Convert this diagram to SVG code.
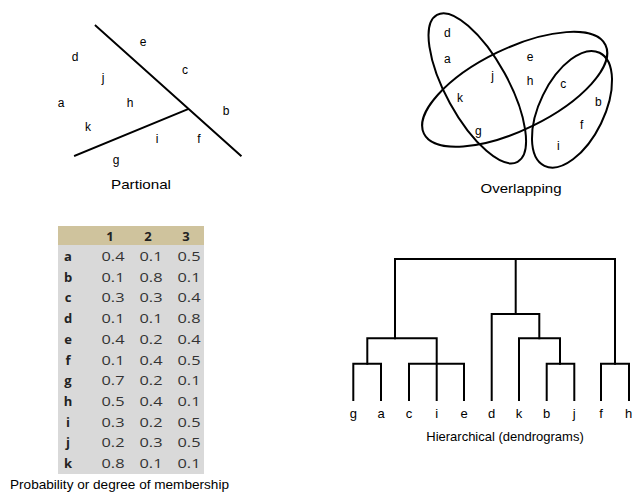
<svg xmlns="http://www.w3.org/2000/svg" width="632" height="493" viewBox="0 0 632 493">
  <style>
    .ln { fill: none; stroke: #000; stroke-width: 2; stroke-linecap: square; }
    .lb { font-family: "Liberation Sans", Arial, sans-serif; font-size: 12px; fill: #000; text-anchor: middle; }
    .cap { font-family: "Liberation Sans", Arial, sans-serif; font-size: 13px; fill: #000; text-anchor: middle; }
    .tb { font-family: "Open Sans", "Noto Sans", sans-serif; font-size: 13.5px; fill: #333; text-anchor: middle; }
    .tbh { font-family: "Open Sans", "Noto Sans", sans-serif; font-size: 13px; font-weight: bold; fill: #222; text-anchor: middle; }
  </style>
  <rect width="632" height="493" fill="#fff"/>

  <!-- Partitional clustering -->
  <g id="partional">
    <line class="ln" x1="95.7" y1="25.7" x2="240.7" y2="155.7"/>
    <line class="ln" x1="75" y1="155.7" x2="187.7" y2="109.3"/>
    <text class="lb" x="143" y="46">e</text>
    <text class="lb" x="75" y="61">d</text>
    <text class="lb" x="185" y="74">c</text>
    <text class="lb" x="103" y="82">j</text>
    <text class="lb" x="61" y="107">a</text>
    <text class="lb" x="130" y="107">h</text>
    <text class="lb" x="226" y="115">b</text>
    <text class="lb" x="88" y="131">k</text>
    <text class="lb" x="157" y="143">i</text>
    <text class="lb" x="199" y="143">f</text>
    <text class="lb" x="116" y="164">g</text>
    <text class="cap" x="141" y="189" textLength="60" lengthAdjust="spacingAndGlyphs">Partional</text>
  </g>

  <!-- Overlapping clustering -->
  <g id="overlapping">
    <ellipse class="ln" cx="0" cy="0" rx="83.8" ry="31.2" transform="translate(477.3 88.3) rotate(61.25)"/>
    <ellipse class="ln" cx="0" cy="0" rx="101" ry="40.7" transform="translate(514.7 89.3) rotate(-26)"/>
    <ellipse class="ln" cx="0" cy="0" rx="62.9" ry="32.3" transform="translate(572 109.3) rotate(-64)"/>
    <text class="lb" x="447.3" y="36.5">d</text>
    <text class="lb" x="447.3" y="63">a</text>
    <text class="lb" x="530" y="60.5">e</text>
    <text class="lb" x="492.7" y="80">j</text>
    <text class="lb" x="530" y="85">h</text>
    <text class="lb" x="563.3" y="88">c</text>
    <text class="lb" x="460" y="101.5">k</text>
    <text class="lb" x="598.3" y="106">b</text>
    <text class="lb" x="581.7" y="128.5">f</text>
    <text class="lb" x="478.3" y="135">g</text>
    <text class="lb" x="558.3" y="150">i</text>
    <text class="cap" x="521" y="193" textLength="81" lengthAdjust="spacingAndGlyphs">Overlapping</text>
  </g>

  <!-- Membership table -->
  <g id="membership">
    <rect x="58" y="226" width="146" height="19" fill="#cfc39d"/>
    <rect x="58" y="245" width="146" height="229" fill="#d9d9d9"/>
    <text class="tbh" x="110" y="240.5">1</text>
    <text class="tbh" x="148" y="240.5">2</text>
    <text class="tbh" x="186" y="240.5">3</text>
    <g id="row-a"><text class="tbh" x="68" y="261">a</text><text class="tb" x="113" y="261" textLength="23" lengthAdjust="spacingAndGlyphs">0.4</text><text class="tb" x="151" y="261" textLength="23" lengthAdjust="spacingAndGlyphs">0.1</text><text class="tb" x="189" y="261" textLength="23" lengthAdjust="spacingAndGlyphs">0.5</text></g>
    <g id="row-b"><text class="tbh" x="68" y="281.7">b</text><text class="tb" x="113" y="281.7" textLength="23" lengthAdjust="spacingAndGlyphs">0.1</text><text class="tb" x="151" y="281.7" textLength="23" lengthAdjust="spacingAndGlyphs">0.8</text><text class="tb" x="189" y="281.7" textLength="23" lengthAdjust="spacingAndGlyphs">0.1</text></g>
    <g id="row-c"><text class="tbh" x="68" y="302.4">c</text><text class="tb" x="113" y="302.4" textLength="23" lengthAdjust="spacingAndGlyphs">0.3</text><text class="tb" x="151" y="302.4" textLength="23" lengthAdjust="spacingAndGlyphs">0.3</text><text class="tb" x="189" y="302.4" textLength="23" lengthAdjust="spacingAndGlyphs">0.4</text></g>
    <g id="row-d"><text class="tbh" x="68" y="323.1">d</text><text class="tb" x="113" y="323.1" textLength="23" lengthAdjust="spacingAndGlyphs">0.1</text><text class="tb" x="151" y="323.1" textLength="23" lengthAdjust="spacingAndGlyphs">0.1</text><text class="tb" x="189" y="323.1" textLength="23" lengthAdjust="spacingAndGlyphs">0.8</text></g>
    <g id="row-e"><text class="tbh" x="68" y="343.8">e</text><text class="tb" x="113" y="343.8" textLength="23" lengthAdjust="spacingAndGlyphs">0.4</text><text class="tb" x="151" y="343.8" textLength="23" lengthAdjust="spacingAndGlyphs">0.2</text><text class="tb" x="189" y="343.8" textLength="23" lengthAdjust="spacingAndGlyphs">0.4</text></g>
    <g id="row-f"><text class="tbh" x="68" y="364.5">f</text><text class="tb" x="113" y="364.5" textLength="23" lengthAdjust="spacingAndGlyphs">0.1</text><text class="tb" x="151" y="364.5" textLength="23" lengthAdjust="spacingAndGlyphs">0.4</text><text class="tb" x="189" y="364.5" textLength="23" lengthAdjust="spacingAndGlyphs">0.5</text></g>
    <g id="row-g"><text class="tbh" x="68" y="385.2">g</text><text class="tb" x="113" y="385.2" textLength="23" lengthAdjust="spacingAndGlyphs">0.7</text><text class="tb" x="151" y="385.2" textLength="23" lengthAdjust="spacingAndGlyphs">0.2</text><text class="tb" x="189" y="385.2" textLength="23" lengthAdjust="spacingAndGlyphs">0.1</text></g>
    <g id="row-h"><text class="tbh" x="68" y="405.9">h</text><text class="tb" x="113" y="405.9" textLength="23" lengthAdjust="spacingAndGlyphs">0.5</text><text class="tb" x="151" y="405.9" textLength="23" lengthAdjust="spacingAndGlyphs">0.4</text><text class="tb" x="189" y="405.9" textLength="23" lengthAdjust="spacingAndGlyphs">0.1</text></g>
    <g id="row-i"><text class="tbh" x="68" y="426.6">i</text><text class="tb" x="113" y="426.6" textLength="23" lengthAdjust="spacingAndGlyphs">0.3</text><text class="tb" x="151" y="426.6" textLength="23" lengthAdjust="spacingAndGlyphs">0.2</text><text class="tb" x="189" y="426.6" textLength="23" lengthAdjust="spacingAndGlyphs">0.5</text></g>
    <g id="row-j"><text class="tbh" x="68" y="447.3">j</text><text class="tb" x="113" y="447.3" textLength="23" lengthAdjust="spacingAndGlyphs">0.2</text><text class="tb" x="151" y="447.3" textLength="23" lengthAdjust="spacingAndGlyphs">0.3</text><text class="tb" x="189" y="447.3" textLength="23" lengthAdjust="spacingAndGlyphs">0.5</text></g>
    <g id="row-k"><text class="tbh" x="68" y="468">k</text><text class="tb" x="113" y="468" textLength="23" lengthAdjust="spacingAndGlyphs">0.8</text><text class="tb" x="151" y="468" textLength="23" lengthAdjust="spacingAndGlyphs">0.1</text><text class="tb" x="189" y="468" textLength="23" lengthAdjust="spacingAndGlyphs">0.1</text></g>
    <text class="cap" x="119.5" y="489" textLength="219" lengthAdjust="spacingAndGlyphs">Probability or degree of membership</text>
  </g>

  <!-- Hierarchical clustering (dendrogram) -->
  <g id="dendrogram">
    <path class="ln" d="M395,338.3 V259 H615 V363.7 M515.7,259 V314"/>
    <path class="ln" d="M367.3,363.7 V338.3 H436.7 V400"/>
    <path class="ln" d="M353.3,400 V363.7 H381 V400"/>
    <path class="ln" d="M409,400 V363.7 H464 V400"/>
    <path class="ln" d="M491.7,400 V314 H539.3 V338.3"/>
    <path class="ln" d="M519,400 V338.3 H560 V363.7"/>
    <path class="ln" d="M546.7,400 V363.7 H574.3 V400"/>
    <path class="ln" d="M601,400 V363.7 H629 V400"/>
    <g class="leaves">
      <text class="cap" x="353.3" y="418">g</text>
      <text class="cap" x="381" y="418">a</text>
      <text class="cap" x="409" y="418">c</text>
      <text class="cap" x="436.7" y="418">i</text>
      <text class="cap" x="464" y="418">e</text>
      <text class="cap" x="491.7" y="418">d</text>
      <text class="cap" x="519" y="418">k</text>
      <text class="cap" x="546.7" y="418">b</text>
      <text class="cap" x="574.3" y="418">j</text>
      <text class="cap" x="601" y="418">f</text>
      <text class="cap" x="628.5" y="418">h</text>
    </g>
    <text class="cap" x="505" y="441">Hierarchical (dendrograms)</text>
  </g>
</svg>
